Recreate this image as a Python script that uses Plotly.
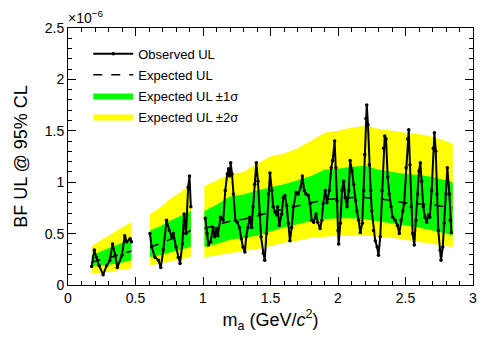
import plotly.graph_objects as go

# values in units of 1e-6
# --- expected-limit bands, one set per mass window ---
seg1_x = [0.175, 0.25, 0.32, 0.40, 0.47]
seg1_exp = [0.22, 0.25, 0.27, 0.30, 0.33]
seg1_g_lo = [0.18, 0.19, 0.20, 0.22, 0.24]
seg1_g_hi = [0.29, 0.33, 0.36, 0.41, 0.45]
seg1_y_lo = [0.11, 0.12, 0.13, 0.15, 0.16]
seg1_y_hi = [0.38, 0.44, 0.50, 0.56, 0.61]

seg2_x = [0.607, 0.68, 0.75, 0.83, 0.91]
seg2_exp = [0.37, 0.40, 0.44, 0.48, 0.53]
seg2_g_lo = [0.27, 0.29, 0.31, 0.34, 0.37]
seg2_g_hi = [0.53, 0.57, 0.62, 0.67, 0.72]
seg2_y_lo = [0.19, 0.21, 0.23, 0.25, 0.27]
seg2_y_hi = [0.69, 0.75, 0.83, 0.90, 0.98]

seg3_x = [1.01, 1.1, 1.2, 1.3, 1.4, 1.5, 1.6, 1.7, 1.8, 1.9,
          2.0, 2.1, 2.2, 2.3, 2.4, 2.5, 2.6, 2.7, 2.8, 2.85]
seg3_exp = [0.55, 0.58, 0.62, 0.64, 0.67, 0.71, 0.74, 0.77, 0.80, 0.83,
            0.84, 0.85, 0.85, 0.84, 0.82, 0.80, 0.79, 0.78, 0.76, 0.75]
seg3_g_lo = [0.37, 0.40, 0.44, 0.46, 0.48, 0.52, 0.56, 0.59, 0.62, 0.64,
             0.65, 0.65, 0.64, 0.62, 0.60, 0.58, 0.56, 0.53, 0.50, 0.48]
seg3_g_hi = [0.72, 0.78, 0.86, 0.88, 0.92, 0.95, 0.98, 1.02, 1.06, 1.12,
             1.13, 1.15, 1.16, 1.12, 1.10, 1.08, 1.07, 1.05, 1.02, 1.00]
seg3_y_lo = [0.27, 0.29, 0.31, 0.33, 0.35, 0.38, 0.41, 0.43, 0.46, 0.47,
             0.48, 0.48, 0.48, 0.47, 0.46, 0.44, 0.42, 0.40, 0.38, 0.37]
seg3_y_hi = [0.96, 1.02, 1.08, 1.10, 1.18, 1.25, 1.28, 1.33, 1.40, 1.48,
             1.50, 1.53, 1.55, 1.52, 1.50, 1.48, 1.47, 1.44, 1.40, 1.37]

# --- observed upper limits ---
obs1_x = [0.175, 0.195, 0.21, 0.23, 0.26, 0.287, 0.31, 0.33, 0.35, 0.365,
          0.40, 0.42, 0.435, 0.46, 0.47]
obs1_y = [0.18, 0.34, 0.27, 0.19, 0.10, 0.19, 0.24, 0.40, 0.29, 0.17,
          0.29, 0.48, 0.42, 0.45, 0.42]

obs2_x = [0.607, 0.62, 0.644, 0.67, 0.687, 0.706, 0.73, 0.75, 0.77, 0.78,
          0.80, 0.817, 0.83, 0.847, 0.86, 0.874, 0.89, 0.90, 0.91]
obs2_y = [0.50, 0.37, 0.27, 0.24, 0.17, 0.34, 0.63, 0.53, 0.47, 0.50,
          0.37, 0.27, 0.21, 0.40, 0.69, 0.50, 0.95, 1.06, 0.76]

obs3_x = [1.017, 1.03, 1.04, 1.057, 1.074, 1.087, 1.10, 1.11, 1.13, 1.15,
          1.165, 1.18, 1.19, 1.198, 1.205, 1.215, 1.225, 1.24, 1.254, 1.27,
          1.284, 1.296, 1.31, 1.32, 1.333, 1.346, 1.36, 1.37, 1.383, 1.395,
          1.407, 1.42, 1.43, 1.447, 1.457, 1.47, 1.484, 1.496, 1.51, 1.52,
          1.533, 1.546, 1.553, 1.565, 1.583, 1.595, 1.607, 1.62, 1.632, 1.644,
          1.657, 1.67, 1.69, 1.706, 1.724, 1.736, 1.75, 1.763, 1.78, 1.793,
          1.805, 1.82, 1.837, 1.85, 1.867, 1.88, 1.89, 1.906, 1.918, 1.936,
          1.95, 1.96, 1.975, 1.985, 1.993, 2.0, 2.005, 2.017, 2.03, 2.042,
          2.054, 2.067, 2.08, 2.09, 2.104, 2.116, 2.13, 2.14, 2.153, 2.165,
          2.18, 2.19, 2.198, 2.207, 2.213, 2.222, 2.232, 2.242, 2.25, 2.264,
          2.276, 2.29, 2.30, 2.313, 2.326, 2.338, 2.346, 2.356, 2.368, 2.38,
          2.393, 2.405, 2.424, 2.44, 2.454, 2.467, 2.48, 2.49, 2.504, 2.516,
          2.524, 2.533, 2.543, 2.553, 2.565, 2.578, 2.59, 2.60, 2.61, 2.62,
          2.632, 2.644, 2.657, 2.67, 2.68, 2.694, 2.706, 2.714, 2.724, 2.733,
          2.743, 2.756, 2.763, 2.776, 2.787, 2.80, 2.81, 2.825, 2.832, 2.84]
obs3_y = [0.65, 0.50, 0.39, 0.42, 0.56, 0.47, 0.55, 0.48, 0.66, 0.63,
          0.92, 1.08, 1.13, 1.06, 1.19, 1.08, 0.885, 0.63, 0.61, 0.56,
          0.45, 0.37, 0.32, 0.47, 0.56, 0.66, 0.56, 0.76, 0.98, 1.19,
          1.01, 0.69, 0.47, 0.31, 0.24, 0.50, 0.885, 1.09, 0.92, 0.76,
          0.71, 0.68, 0.76, 0.58, 0.69, 0.85, 0.87, 0.77, 0.60, 0.43,
          0.56, 0.76, 0.90, 0.885, 0.95, 1.06, 0.92, 0.885, 0.87, 0.79,
          0.63, 0.61, 0.69, 0.61, 0.55, 0.63, 0.79, 0.92, 0.80, 0.92,
          1.14, 1.21, 1.40, 1.14, 0.82, 0.53, 0.40, 0.60, 0.92, 1.01,
          0.85, 0.76, 0.92, 1.21, 1.11, 0.98, 0.82, 0.72, 0.63, 0.51,
          0.60, 0.92, 1.27, 1.62, 1.75, 1.56, 1.17, 0.92, 0.72, 0.53,
          0.43, 0.37, 0.29, 0.47, 0.92, 1.33, 1.45, 1.42, 1.05, 0.885,
          0.76, 0.66, 0.63, 0.58, 0.50, 0.63, 0.72, 0.79, 1.14, 1.42,
          1.51, 1.17, 0.76, 0.50, 0.39, 0.63, 0.885, 1.11, 1.19, 1.01,
          0.76, 0.66, 0.61, 0.68, 0.66, 0.92, 1.33, 1.48, 1.30, 0.885,
          0.53, 0.34, 0.24, 0.37, 0.60, 0.885, 1.14, 0.885, 0.63, 0.51]

x_ticks = [0, 0.5, 1, 1.5, 2, 2.5, 3]
y_ticks = [0, 0.5, 1, 1.5, 2, 2.5]

segments = [
    (seg1_x, seg1_exp, seg1_g_lo, seg1_g_hi, seg1_y_lo, seg1_y_hi, obs1_x, obs1_y),
    (seg2_x, seg2_exp, seg2_g_lo, seg2_g_hi, seg2_y_lo, seg2_y_hi, obs2_x, obs2_y),
    (seg3_x, seg3_exp, seg3_g_lo, seg3_g_hi, seg3_y_lo, seg3_y_hi, obs3_x, obs3_y),
]

fig = go.Figure()

for i, (sx, ex, glo, ghi, ylo, yhi, ox, oy) in enumerate(segments):
    first = i == 0
    fig.add_trace(go.Scatter(
        x=sx + sx[::-1], y=yhi + ylo[::-1], fill='toself', mode='lines',
        line=dict(width=0), fillcolor='#ffff00', name='Expected UL ±2σ',
        legendgroup='y', showlegend=first, legendrank=4, hoverinfo='skip'))
    fig.add_trace(go.Scatter(
        x=sx + sx[::-1], y=ghi + glo[::-1], fill='toself', mode='lines',
        line=dict(width=0), fillcolor='#00ff00', name='Expected UL ±1σ',
        legendgroup='g', showlegend=first, legendrank=3, hoverinfo='skip'))

for i, (sx, ex, glo, ghi, ylo, yhi, ox, oy) in enumerate(segments):
    first = i == 0
    fig.add_trace(go.Scatter(
        x=sx, y=ex, mode='lines', line=dict(color='black', width=1.5, dash='dash'),
        name='Expected UL', legendgroup='e', showlegend=first, legendrank=2))
    fig.add_trace(go.Scatter(
        x=ox, y=oy, mode='lines+markers', line=dict(color='black', width=2),
        marker=dict(color='black', size=3.5), name='Observed UL',
        legendgroup='o', showlegend=first, legendrank=1))

axis_common = dict(
    showgrid=False, zeroline=False, showline=True, linecolor='black', linewidth=1,
    mirror='allticks', ticks='inside', ticklen=8, tickcolor='black',
    tickfont=dict(family='Liberation Sans', size=14, color='black'),
    minor=dict(ticks='inside', ticklen=4, tickcolor='black', showgrid=False),
)

fig.update_xaxes(**axis_common, range=[0, 3], tickvals=x_ticks,
                 ticktext=[f'{v:g}' for v in x_ticks], minor_dtick=0.1,
                 title=dict(text='m<sub>a</sub> (GeV/<i>c</i><sup>2</sup>)',
                            font=dict(family='Liberation Sans', size=18, color='black'),
                            standoff=8))
fig.update_yaxes(**axis_common, range=[0, 2.5], tickvals=y_ticks,
                 ticktext=[f'{v:g}' for v in y_ticks], minor_dtick=0.1,
                 title=dict(text='BF UL @ 95% CL',
                            font=dict(family='Liberation Sans', size=18, color='black'),
                            standoff=12))

fig.add_annotation(x=0, y=1, xref='paper', yref='paper', xanchor='left', yanchor='bottom',
                   text='×10<sup>−6</sup>', showarrow=False, xshift=-2,
                   font=dict(family='Liberation Sans', size=14, color='black'))

# the page body adds an 8px margin, so the figure is drawn 8px smaller
fig.update_layout(
    width=490, height=331,
    margin=dict(l=60, r=25, t=18, b=54),
    paper_bgcolor='white', plot_bgcolor='white',
    legend=dict(x=0.05, y=0.958, xanchor='left', yanchor='top',
                bgcolor='rgba(0,0,0,0)', borderwidth=0,
                font=dict(family='Liberation Sans', size=13, color='black'),
                tracegroupgap=1, itemwidth=40),
    showlegend=True,
)

fig.write_html("out.html")
